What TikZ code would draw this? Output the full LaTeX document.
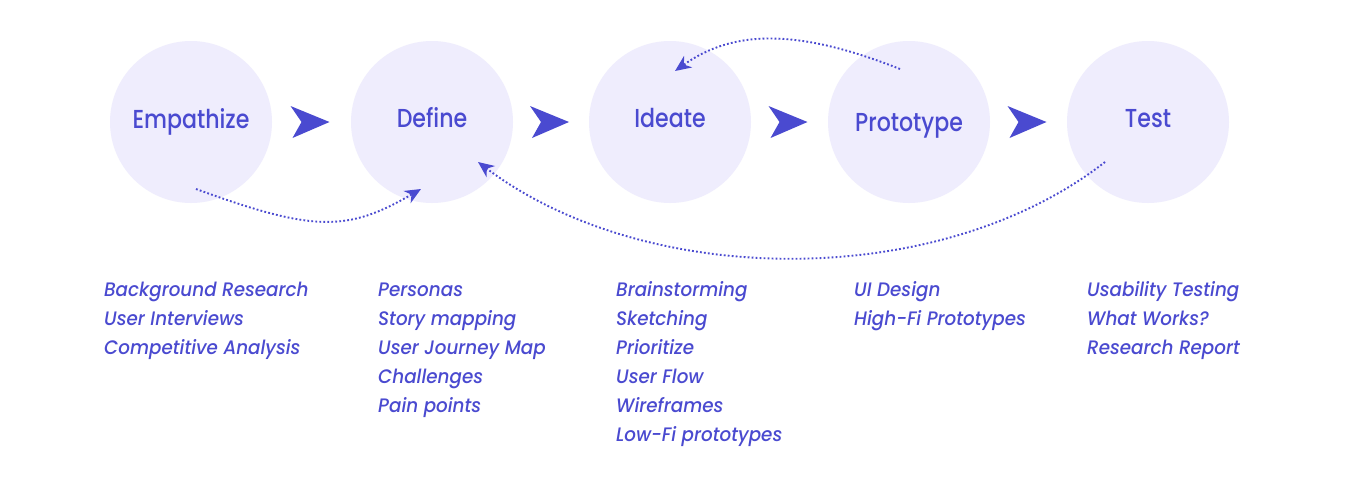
\documentclass[tikz,border=0pt]{standalone}
\usepackage{fontspec}
\setmainfont{Poppins}
\newfontfamily\ttlfont{Poppins}[UprightFont=* Medium, FakeStretch=0.85]
\newfontfamily\itmfont{Poppins}[UprightFont=* Medium Italic, FakeStretch=0.94]
\usetikzlibrary{arrows.meta,calc}
\definecolor{ink}{RGB}{74,74,208}
\definecolor{bub}{RGB}{239,237,253}
\tikzset{
  stage/.style={circle, fill=bub, draw=none, minimum size=162pt, inner sep=0pt},
  ttl/.style={anchor=base, inner sep=0pt, text=ink, font=\ttlfont\fontsize{26}{30}\selectfont},
  item/.style={anchor=base west, inner sep=0pt, text=ink, font=\itmfont\fontsize{19.5}{22}\selectfont},
  loop/.style={draw=ink, line width=1.9pt, dash pattern=on 1.8pt off 2.2pt, -{Stealth[length=16pt,width=14pt,inset=5pt]}},
  bigarrow/.style={fill=ink}
}
\begin{document}
\begin{tikzpicture}[x=1pt,y=-1pt]
\useasboundingbox (0,0) rectangle (1350,480);
\fill[white] (0,0) rectangle (1350,480);
% stages
\node[stage] (emp) at (191,122) {};
\node[stage] (def) at (432,122) {};
\node[stage] (ide) at (670,122) {};
\node[stage] (pro) at (909,122) {};
\node[stage] (tst) at (1148,122) {};
\node[ttl] (empT) at ($(emp)+(0,6)$) {Empathize};
\node[ttl] (defT) at ($(def)+(0,5)$) {Define};
\node[ttl] (ideT) at ($(ide)+(0,5)$) {Ideate};
\node[ttl] (proT) at ($(pro)+(0,9)$) {Prototype};
\node[ttl] (tstT) at ($(tst)+(0,5)$) {Test};
% big arrows between stages
\foreach \a/\b/\n in {emp/def/m1, def/ide/m2, ide/pro/m3, pro/tst/m4}{
  \coordinate (\n) at ($(\a.east)!0.5!(\b.west)$);
  \fill[bigarrow] ($(\n)+(-21,-16)$) -- ($(\n)+(18,0)$) -- ($(\n)+(-19,16)$) -- ($(\n)+(-10,0)$) -- cycle;
}
% dotted loops
\coordinate (s1) at ($(emp)+(5,67)$);
\coordinate (e1) at ($(def)+(-11,67)$);
\draw[loop] (s1) .. controls +(118,43) and +(-74,43) .. (e1);
\coordinate (s2) at ($(tst)+(-43,40)$);
\coordinate (e2) at ($(def)+(46,40)$);
\draw[loop] (s2) .. controls +(-164,128) and +(170,128) .. (e2);
\coordinate (s3) at ($(pro)+(-9,-53)$);
\coordinate (e3) at ($(ide)+(5,-51)$);
\draw[loop] (s3) .. controls +(-101,-40) and +(59,-42) .. (e3);
% lists
\node[item] (l11) at (104,296) {Background Research};
\node[item] (l12) at (104,325) {User Interviews};
\node[item] (l13) at (104,354) {Competitive Analysis};
\node[item] (l21) at (378,296) {Personas};
\node[item] (l22) at (378,325) {Story mapping};
\node[item] (l23) at (378,354) {User Journey Map};
\node[item] (l24) at (378,383) {Challenges};
\node[item] (l25) at (378,412) {Pain points};
\node[item] (l31) at (616,296) {Brainstorming};
\node[item] (l32) at (616,325) {Sketching};
\node[item] (l33) at (616,354) {Prioritize};
\node[item] (l34) at (616,383) {User Flow};
\node[item] (l35) at (616,412) {Wireframes};
\node[item] (l36) at (616,441) {Low-Fi prototypes};
\node[item] (l41) at (854,296) {UI Design};
\node[item] (l42) at (854,325) {High-Fi Prototypes};
\node[item] (l51) at (1087,296) {Usability Testing};
\node[item] (l52) at (1087,325) {What Works?};
\node[item] (l53) at (1087,354) {Research Report};
\end{tikzpicture}
\end{document}
